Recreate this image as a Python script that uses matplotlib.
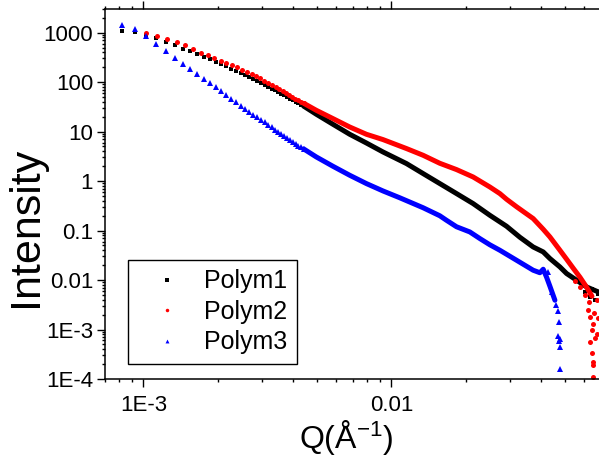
import numpy as np
import matplotlib.pyplot as plt
from matplotlib.ticker import FixedLocator, FixedFormatter, LogLocator, NullFormatter

plt.rcParams['font.family'] = ['Liberation Sans', 'DejaVu Sans']
plt.rcParams['mathtext.fontset'] = 'custom'
plt.rcParams['mathtext.rm'] = 'Liberation Sans'

# ---- data ----
# low-Q points (individual markers)
q_a = [0.00082, 0.000923, 0.001026, 0.001129, 0.001232, 0.001335, 0.001438, 0.001541,
       0.001644, 0.001747, 0.00185, 0.001953, 0.002056, 0.002159, 0.002262, 0.002365,
       0.002468, 0.002571, 0.002674, 0.002777, 0.00288, 0.002983, 0.003086, 0.003189,
       0.003292, 0.003395, 0.003498, 0.003601, 0.003704, 0.003807, 0.00391, 0.004013,
       0.004116, 0.004219, 0.004322, 0.004425]
polym1 = [1062, 1014, 882, 767, 646, 553, 475, 419, 370, 322, 289, 260, 232, 209, 187, 171,
          153, 139, 127, 115.5, 105, 95.9, 87.8, 80.3, 74.2, 68.3, 63.4, 58.6, 54.4, 50.2,
          46.6, 43.3, 40.2, 37.5, 34.9, 32.7]
polym3 = [1425, 1166, 853, 580, 419, 307, 237, 181, 144, 115.6, 94.6, 78.5, 65.2, 54.1,
          45.6, 39.1, 33.5, 29.2, 25.4, 22.0, 19.4, 17.2, 15.3, 13.7, 12.2, 11.0, 9.9, 8.9,
          8.0, 7.32, 6.70, 6.14, 5.67, 5.21, 4.82, 4.47]

q_b = [0.00102, 0.001134, 0.001248, 0.001362, 0.001476, 0.00159, 0.001704, 0.001818,
       0.001932, 0.002046, 0.00216, 0.002274, 0.002388, 0.002502, 0.002616, 0.00273,
       0.002844, 0.002958, 0.003072, 0.003186, 0.0033, 0.003414, 0.003528, 0.003642,
       0.003756, 0.00387, 0.003984, 0.004098, 0.004212, 0.004326, 0.00444]
polym2 = [982, 854, 743, 646, 556, 462, 395, 348, 307, 272, 243, 221, 199, 179, 160, 146,
          133, 121, 106.7, 95.4, 86.2, 78.1, 71.2, 64.6, 59.4, 54.6, 50.2, 46.4, 43.1,
          40.0, 37.1]

# high-Q part, where the points merge into a band
q1_hi = [0.004425, 0.00498, 0.005811, 0.006789, 0.007926, 0.009249, 0.0115, 0.01342,
         0.01567, 0.0183, 0.02135, 0.02493, 0.02912, 0.03296, 0.03729, 0.04093, 0.04356,
         0.0478, 0.05087, 0.05582, 0.06126, 0.06723, 0.0706]
polym1_hi = [32.7, 22.4, 14.05, 8.82, 5.88, 3.87, 2.257, 1.417, 0.890, 0.559, 0.351, 0.2037,
             0.1222, 0.0732, 0.0466, 0.0370, 0.0272, 0.0184, 0.01353, 0.00991, 0.00725,
             0.00594, 0.00541]

q2_hi = [0.00444, 0.00498, 0.005811, 0.006789, 0.007926, 0.009249, 0.0115, 0.01342,
         0.01567, 0.0183, 0.02135, 0.02493, 0.02736, 0.02912, 0.03196, 0.03729, 0.04093,
         0.04356, 0.0478, 0.05087, 0.05409, 0.05758, 0.06126, 0.06436]
polym2_hi = [37.1, 26.9, 18.3, 12.38, 8.82, 6.89, 4.54, 3.32, 2.288, 1.707, 1.21, 0.76,
             0.559, 0.429, 0.3026, 0.1747, 0.1062, 0.0743, 0.040, 0.0263, 0.0173, 0.01139,
             0.00715, 0.00471]

q3_hi = [0.004425, 0.00498, 0.005811, 0.006789, 0.007926, 0.009249, 0.0108, 0.01342,
         0.01567, 0.01667, 0.0183, 0.02071, 0.02273, 0.02493, 0.02736, 0.03196, 0.03729,
         0.0397, 0.04093, 0.04224, 0.04356, 0.04563]
polym3_hi = [4.47, 3.07, 1.99, 1.31, 0.89, 0.631, 0.46, 0.289, 0.199, 0.1614, 0.1193,
             0.0937, 0.0689, 0.0516, 0.040, 0.0251, 0.01578, 0.01404, 0.01652, 0.01139,
             0.00749, 0.00391]

# noisy tail points
q1_tail = [0.06317, 0.06619, 0.06806, 0.06032, 0.06436]
polym1_tail = [0.00449, 0.00391, 0.00517, 0.00567, 0.00652]
q2_tail = [0.06217, 0.06317, 0.06513, 0.06416, 0.06723, 0.06317, 0.06619, 0.06416, 0.06513,
           0.06477, 0.06477, 0.06032, 0.06257, 0.06742, 0.06556, 0.06806, 0.05495, 0.05758]
polym2_tail = [0.00245, 0.0018, 0.00132, 9.7e-4, 8.3e-4, 5.6e-4, 6.6e-4, 3.3e-4, 2.2e-4,
               1.9e-4, 1.1e-4, 0.0049, 0.0036, 0.0039, 0.0022, 0.0017, 0.00946, 0.00715]
q3_tail = [0.04288, 0.04438, 0.04627, 0.04692, 0.04749, 0.04705, 0.0478, 0.04736, 0.0478,
           0.0478]
polym3_tail = [0.01457, 0.00567, 0.0031, 0.00234, 0.001424, 7.32e-4, 6.58e-4, 5.88e-4,
               4.45e-4, 1.63e-4]

ytick_vals = [1e-4, 1e-3, 1e-2, 1e-1, 1, 10, 100, 1000]
ytick_labels = ['1E-4', '1E-3', '0.01', '0.1', '1', '10', '100', '1000']
xtick_vals = [1e-3, 1e-2]
xtick_labels = ['1E-3', '0.01']

# ---- plot ----
fig = plt.figure(figsize=(5.99, 4.57), dpi=100)
ax = fig.add_axes([105 / 599, 1 - 379 / 457, 496 / 599, 370 / 457])

band = 3.6
h1, = ax.plot(q_a, polym1, 's', color='black', ms=3.2, mew=0, label='Polym1')
ax.plot(q1_hi, polym1_hi, '-', color='black', lw=band, solid_capstyle='round')
ax.plot(q1_tail, polym1_tail, 's', color='black', ms=3.2, mew=0)

h2, = ax.plot(q_b, polym2, 'o', color='red', ms=3.6, mew=0, label='Polym2')
ax.plot(q2_hi, polym2_hi, '-', color='red', lw=band, solid_capstyle='round')
ax.plot(q2_tail, polym2_tail, 'o', color='red', ms=3.6, mew=0)

h3, = ax.plot(q_a, polym3, '^', color='blue', ms=4.0, mew=0, label='Polym3')
ax.plot(q3_hi, polym3_hi, '-', color='blue', lw=band, solid_capstyle='round')
ax.plot(q3_tail, polym3_tail, '^', color='blue', ms=4.0, mew=0)

ax.set_xscale('log')
ax.set_yscale('log')
ax.set_xlim(7e-4, 0.07)
ax.set_ylim(1e-4, 3000)

ax.yaxis.set_major_locator(FixedLocator(ytick_vals))
ax.yaxis.set_major_formatter(FixedFormatter(ytick_labels))
ax.yaxis.set_minor_locator(LogLocator(base=10, subs=np.arange(2, 10)))
ax.yaxis.set_minor_formatter(NullFormatter())
ax.xaxis.set_major_locator(FixedLocator(xtick_vals))
ax.xaxis.set_major_formatter(FixedFormatter(xtick_labels))
ax.xaxis.set_minor_locator(LogLocator(base=10, subs=np.arange(2, 10)))
ax.xaxis.set_minor_formatter(NullFormatter())

ax.tick_params(which='both', direction='out', top=True, right=False, width=1.0)
ax.tick_params(which='major', length=5.5, labelsize=16)
ax.tick_params(axis='y', which='major', pad=3)
ax.tick_params(axis='x', which='major', pad=6)
ax.tick_params(which='minor', length=2.5)
for s in ax.spines.values():
    s.set_linewidth(1.1)

ax.set_ylabel('Intensity', fontsize=31, va='center')
ax.yaxis.set_label_coords(-0.16, 0.41)
ax.set_xlabel('Q(Å$\\mathregular{^{-1}}$)', fontsize=23, labelpad=2)
ax.xaxis.set_label_coords(0.486, -0.105)

leg = ax.legend(handles=[h1, h2, h3], loc='upper left', bbox_to_anchor=(128 / 599, 1 - 260 / 457),
                bbox_transform=fig.transFigure, borderaxespad=0, fontsize=18, fancybox=False,
                framealpha=1, edgecolor='black', borderpad=0.37, handlelength=2.38,
                handletextpad=0.29, labelspacing=0.26, markerscale=0.7)
leg.get_frame().set_linewidth(1.0)

plt.savefig('out.png', dpi=100)
